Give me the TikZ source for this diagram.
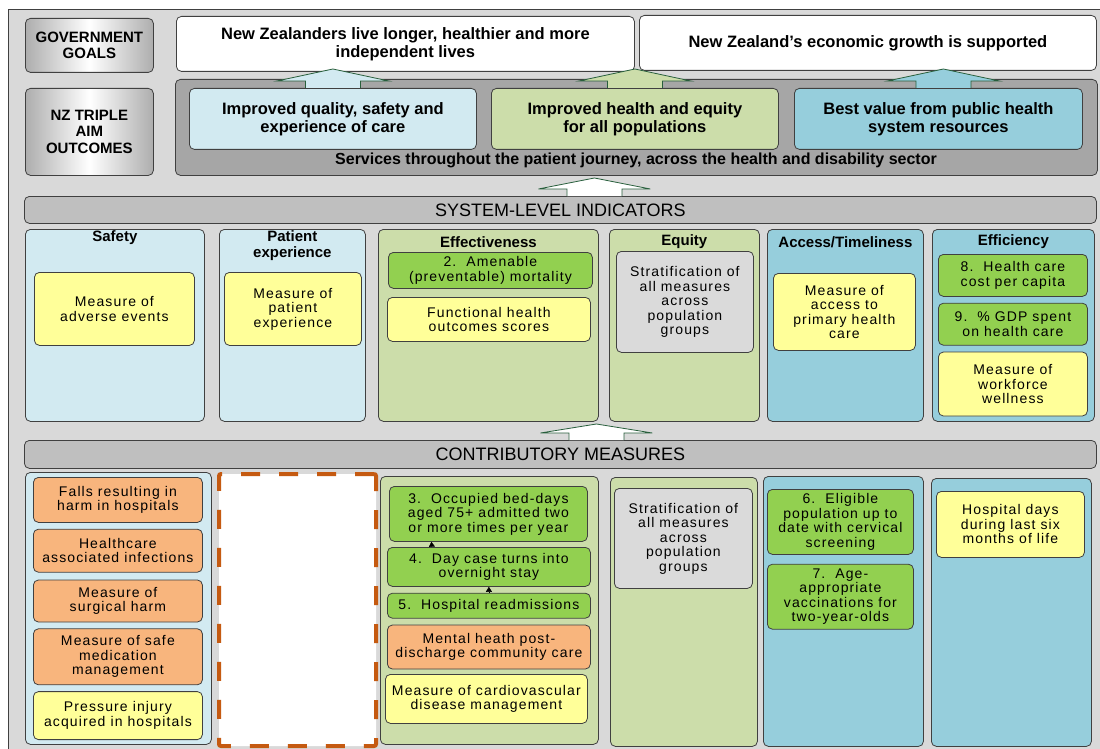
\documentclass[tikz,border=0pt]{standalone}
\usepackage{fontspec}
\setmainfont{Liberation Sans}
\newfontfamily\measfamily{Liberation Sans}[LetterSpace=8]
\usetikzlibrary{positioning,arrows.meta}

\definecolor{frameGray}{RGB}{217,217,217}
\definecolor{bandGray}{RGB}{166,166,166}
\definecolor{barGray}{RGB}{191,191,191}
\definecolor{lineGray}{RGB}{64,64,64}
\definecolor{paleBlue}{RGB}{210,234,241}
\definecolor{paleGreen}{RGB}{204,221,170}
\definecolor{midBlue}{RGB}{150,206,220}
\definecolor{measYellow}{RGB}{255,255,153}
\definecolor{measGreen}{RGB}{146,208,80}
\definecolor{measOrange}{RGB}{248,181,125}
\definecolor{measGray}{RGB}{218,218,218}
\definecolor{dashOrange}{RGB}{197,90,17}
\definecolor{arrowGreen}{RGB}{40,95,60}
\newcommand{\FrameGap}{6}

\begin{document}
\begin{tikzpicture}[x=1pt, y=-1pt,
	pane/.style={draw=lineGray, line width=0.8pt, rounded corners=5pt, inner sep=0pt, align=center},
	wh/.style 2 args={minimum width=#1pt, minimum height=#2pt},
	nw/.style={anchor=north west},
	tag/.style={pane, nw, left color=black!32, right color=black!32, middle color=white, font=\fontsize{15}{16.5}\selectfont\bfseries},
	goal/.style={pane, nw, fill=white, font=\fontsize{16.5}{18}\selectfont\bfseries},
	bar/.style={pane, nw, fill=barGray, font=\fontsize{18}{20}\selectfont},
	col/.style={pane, nw},
	head/.style={inner sep=0pt, align=center, font=\fontsize{15}{15.5}\selectfont\bfseries},
	meas/.style={pane, font=\measfamily\fontsize{14}{14.5}\selectfont},
	dashbox/.style={nw, draw=dashOrange, line width=4pt, dash pattern=on 19pt off 19pt, fill=white, rounded corners=2pt},
	pics/upblock/.style 2 args={code={
		\fill[#2] (-27.5,0) -- (-27.5,-7) -- (-56,-7) -- (0,-#1) -- (56,-7) -- (27.5,-7) -- (27.5,0) -- cycle;
		\draw[arrowGreen, line width=0.8pt] (-27.5,0) -- (-27.5,-7) -- (-56,-7) -- (0,-#1) -- (56,-7) -- (27.5,-7) -- (27.5,0);
	}},
	]
	\useasboundingbox (0,0) rectangle (1100,749);
	\fill[frameGray] (8,10) rectangle (1100,749);
	\draw[lineGray, line width=1pt] (8,749) -- (8,10) -- (1100,10);

	\node[tag, wh={128}{54}] (t1) at (25,18) {GOVERNMENT\\GOALS};
	\node[tag, wh={128}{87}] (t2) at (25,88) {NZ TRIPLE\\AIM\\OUTCOMES};
	\node[goal, wh={458}{55}] (g1) at (176,16) {New Zealanders live longer, healthier and more\\independent lives};
	\node[goal, wh={457}{55}] (g2) at (639,15) {New Zealand's economic growth is supported};

	\node[col, fill=bandGray, wh={922}{96}] (a1) at (175,79) {};
	\node[font=\fontsize{16}{18}\selectfont\bfseries, inner sep=0pt] (a2) at (636,160) {Services throughout the patient journey, across the health and disability sector};
	\node[goal, fill=paleBlue, wh={287}{61}] (a3) at (189,88) {Improved quality, safety and\\experience of care};
	\node[goal, fill=paleGreen, wh={287}{61}] (a4) at (491,88) {Improved health and equity\\for all populations};
	\node[goal, fill=midBlue, wh={288}{61}] (a5) at (794,88) {Best value from public health\\system resources};
	\pic at (a3.north) {upblock={19}{paleBlue}};
	\pic at (a4.north) {upblock={19}{paleGreen}};
	\pic at ([xshift=5pt]a5.north) {upblock={19}{midBlue}};

	\node[bar, wh={1072}{27}] (b1) at (24,196) {SYSTEM-LEVEL INDICATORS};
	\pic at ([xshift=34pt]b1.north) {upblock={18}{white}};

	\node[col, fill=paleBlue, wh={179}{192}] (c1) at (25,229) {};
	\node[col, fill=paleBlue, wh={146}{192}] (c2) at (219,229) {};
	\node[col, fill=paleGreen, wh={220}{192}] (c3) at (378,229) {};
	\node[col, fill=paleGreen, wh={150}{192}] (c4) at (609,229) {};
	\node[col, fill=midBlue, wh={156}{192}] (c5) at (767,229) {};
	\node[col, fill=midBlue, wh={162}{192}] (c6) at (932,229) {};
	\node[head] (h1) at ([yshift=-9pt]c1.north) {Safety};
	\node[head] (h2) at ([yshift=-16.5pt]c2.north) {Patient\\experience};
	\node[head] (h3) at ([yshift=-13pt]c3.north) {Effectiveness};
	\node[head] (h4) at ([yshift=-13pt]c4.north) {Equity};
	\node[head] (h5) at ([yshift=-13pt]c5.north) {Access/Timeliness};
	\node[head] (h6) at ([yshift=-13pt]c6.north) {Efficiency};

	\node[meas, nw, fill=measYellow, wh={160}{73}] (s1) at (34,272) {Measure of\\adverse events};
	\node[meas, nw, fill=measYellow, wh={137}{73}] (s2) at (224,272) {Measure of\\patient\\experience};
	\node[meas, nw, fill=measGreen, wh={204}{36}] (s3) at (388,252) {2.\ \ Amenable\\(preventable) mortality};
	\node[meas, nw, fill=measYellow, wh={203}{44}] (s4) at (387,297) {Functional health\\outcomes scores};
	\node[meas, nw, fill=measGray, wh={137}{101}] (s5) at (616,251) {Stratification of\\all measures\\across\\population\\groups};
	\node[meas, nw, fill=measYellow, wh={142}{77}] (s6) at (773,273) {Measure of\\access to\\primary health\\care};
	\node[meas, nw, fill=measGreen, wh={149}{42}] (s7) at (938,254) {8.\ \ Health care\\cost per capita};
	\node[meas, fill=measGreen, wh={149}{42}, below=\FrameGap pt of s7] (s8) {9.\ \ \% GDP spent\\on health care};
	\node[meas, fill=measYellow, wh={149}{64}, below=\FrameGap pt of s8] (s9) {Measure of\\workforce\\wellness};

	\node[bar, wh={1072}{28}] (b2) at (24,440) {CONTRIBUTORY MEASURES};
	\pic at ([xshift=36pt]b2.north) {upblock={16}{white}};

	\node[col, fill=paleBlue, wh={186}{272}] (k1) at (25,472) {};
	\node[dashbox, wh={157}{272}] (k2) at (217,472) {};
	\node[col, fill=paleGreen, wh={218}{268}] (k3) at (380,476) {};
	\node[col, fill=paleGreen, wh={147}{269}] (k4) at (610,477) {};
	\node[col, fill=midBlue, wh={160}{270}] (k5) at (763,476) {};
	\node[col, fill=midBlue, wh={160}{268}] (k6) at (931,478) {};

	\node[meas, nw, fill=measOrange, wh={169}{45}] (p1) at (33,477) {Falls resulting in\\harm in hospitals};
	\node[meas, fill=measOrange, wh={169}{43}, below=\FrameGap pt of p1] (p2) {Healthcare\\associated infections};
	\node[meas, fill=measOrange, wh={169}{42}, below=7pt of p2] (p3) {Measure of\\surgical harm};
	\node[meas, fill=measOrange, wh={169}{56}, below=\FrameGap pt of p3] (p4) {Measure of safe\\medication\\management};
	\node[meas, fill=measYellow, wh={169}{48}, below=\FrameGap pt of p4] (p5) {Pressure injury\\acquired in hospitals};

	\node[meas, nw, fill=measGreen, wh={198}{55}] (q1) at (389,486) {3.\ \ Occupied bed-days\\aged 75+ admitted two\\or more times per year};
	\node[meas, nw, fill=measGreen, wh={203}{39}] (q2) at (387,547) {4.\ \ Day case turns into\\overnight stay};
	\node[meas, fill=measGreen, wh={203}{25}, below=\FrameGap pt of q2] (q3) {5.\ \ Hospital readmissions};
	\node[meas, fill=measOrange, wh={203}{44}, below=\FrameGap pt of q3] (q4) {Mental heath post-\\discharge community care};
	\node[meas, nw, fill=measYellow, wh={202}{49}] (q5) at (385,674) {Measure of cardiovascular\\disease management};
	\draw[-{Triangle[width=6pt,length=5pt]}, line width=0.4pt] ([xshift=-57pt]q2.north) -- ([xshift=-57pt]q1.south);
	\draw[-{Triangle[width=6pt,length=5pt]}, line width=0.4pt] (q3.north) -- (q2.south);

	\node[meas, nw, fill=measGray, wh={138}{100}] (u1) at (614,488) {Stratification of\\all measures\\across\\population\\groups};

	\node[meas, nw, fill=measGreen, wh={146}{65}] (r1) at (767,489) {6.\ \ Eligible\\population up to\\date with cervical\\screening};
	\node[meas, fill=measGreen, wh={146}{65}, below=9pt of r1] (r2) {7.\ \ Age-\\appropriate\\vaccinations for\\two-year-olds};

	\node[meas, nw, fill=measYellow, wh={148}{66}] (v1) at (936,491) {Hospital days\\during last six\\months of life};
\end{tikzpicture}
\end{document}
